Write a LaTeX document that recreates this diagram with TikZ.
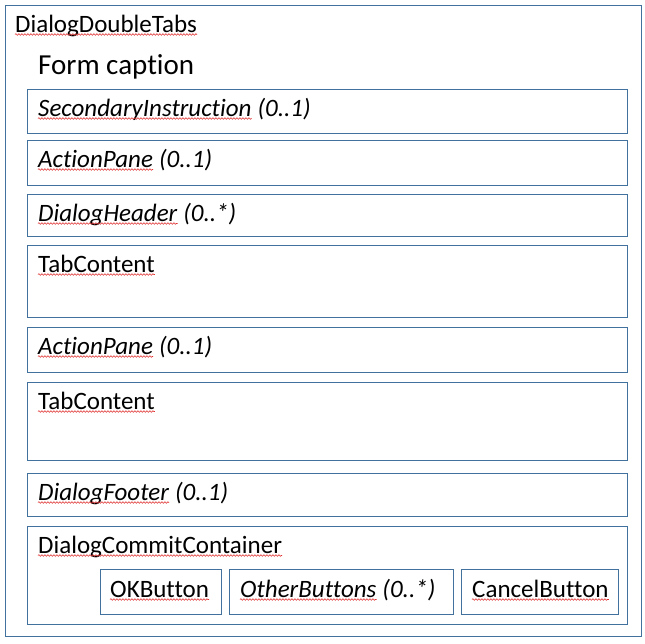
\documentclass[tikz,border=0pt]{standalone}
\usepackage{fontspec}
\setmainfont[Ligatures=NoCommon, RawFeature={-liga;-clig}]{Carlito}
\usetikzlibrary{decorations.pathmorphing}
\definecolor{frame}{HTML}{41719C}
\definecolor{squig}{HTML}{E03030}
\tikzset{
  pane/.style={draw=frame, line width=1.3pt, anchor=north west, inner sep=0pt},
  lbl/.style={anchor=base west, inner sep=0pt, font=\fontsize{25}{29}\selectfont},
  ilbl/.style={lbl, font=\fontsize{25}{29}\selectfont\itshape},
  capt/.style={anchor=base west, inner sep=0pt, font=\fontsize{29}{33}\selectfont},
  squiggle/.style={draw=squig, line width=0.6pt, decorate,
    decoration={snake, amplitude=0.8pt, segment length=3pt}},
}
\begin{document}
\begin{tikzpicture}[x=1pt, y=-1pt]
\useasboundingbox (0,0) rectangle (645,643);
% outer frame
\node[pane, minimum width=636, minimum height=631] (outer) at (5,5) {};
\node[lbl] (title) at (15,32) {DialogDoubleTabs};
\node[capt] (caption) at (38,74) {Form caption};
% panes
\node[pane, minimum width=600, minimum height=44] (b1) at (27,89) {};
\node[pane, minimum width=600, minimum height=45] (b2) at (27,140) {};
\node[pane, minimum width=600, minimum height=42] (b3) at (27,194) {};
\node[pane, minimum width=600, minimum height=72] (b4) at (27,245) {};
\node[pane, minimum width=600, minimum height=45] (b5) at (27,327) {};
\node[pane, minimum width=600, minimum height=78] (b6) at (27,382) {};
\node[pane, minimum width=600, minimum height=43] (b7) at (27,473) {};
\node[pane, minimum width=600, minimum height=98] (b8) at (27,526) {};
% buttons
\node[pane, minimum width=121, minimum height=45] (ok) at (100,569) {};
\node[pane, minimum width=224, minimum height=45] (other) at (229,569) {};
\node[pane, minimum width=157, minimum height=45] (cancel) at (461,569) {};
% labels
\node[ilbl] (t1) at (38,116) {SecondaryInstruction};
\node[ilbl] (t1m) at (t1.base east) {\ (0..1)};
\node[ilbl] (t2) at (38,167) {ActionPane};
\node[ilbl] (t2m) at (t2.base east) {\ (0..1)};
\node[ilbl] (t3) at (38,221) {DialogHeader};
\node[ilbl] (t3m) at (t3.base east) {\ (0..*)};
\node[lbl] (t4) at (38,272) {TabContent};
\node[ilbl] (t5) at (38,354) {ActionPane};
\node[ilbl] (t5m) at (t5.base east) {\ (0..1)};
\node[lbl] (t6) at (38,409) {TabContent};
\node[ilbl] (t7) at (38,500) {DialogFooter};
\node[ilbl] (t7m) at (t7.base east) {\ (0..1)};
\node[lbl] (t8) at (38,553) {DialogCommitContainer};
\node[lbl] (tok) at (110,597) {OKButton};
\node[ilbl] (toth) at (240,597) {OtherButtons};
\node[ilbl] (tothm) at (toth.base east) {\ (0..*)};
\node[lbl] (tcan) at (472,597) {CancelButton};
% spell-check squiggles
\foreach \w in {title,t1,t2,t3,t4,t5,t6,t7,t8,tok,toth,tcan}
  \draw[squiggle] ([yshift=-2.5pt]\w.base west) -- ([yshift=-2.5pt]\w.base east);
\end{tikzpicture}
\end{document}
